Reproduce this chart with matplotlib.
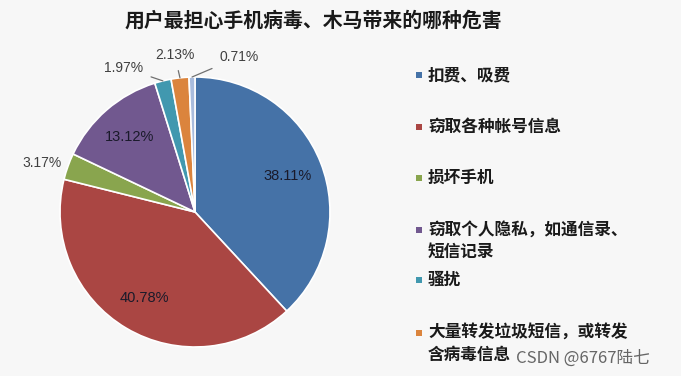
import numpy as np
import matplotlib
matplotlib.use("Agg")
from matplotlib import pyplot as plt
from matplotlib.patches import Rectangle

plt.rcParams['font.family'] = ['Noto Sans CJK SC', 'DejaVu Sans']

title = "用户最担心手机病毒、木马带来的哪种危害"
labels = ["扣费、吸费", "窃取各种帐号信息", "损坏手机",
          "窃取个人隐私，如通信录、\n短信记录", "骚扰",
          "大量转发垃圾短信，或转发\n含病毒信息", ""]
values = [38.11, 40.78, 3.17, 13.12, 1.97, 2.13, 0.71]
colors = ["#4572A7", "#AA4643", "#89A54E", "#71588F", "#4198AF", "#DB843D", "#A9BCDD"]

W, H = 681, 376
fig = plt.figure(figsize=(W / 100, H / 100), dpi=100)
fig.patch.set_facecolor("#f7f7f7")

# pie centred at (195, 212) px, radius ~135 px
cx, cy, r = 195, 212, 135
ax = fig.add_axes([(cx - r) / W, (H - cy - r) / H, 2 * r / W, 2 * r / H])
wedges, _ = ax.pie(values, colors=colors, startangle=90, counterclock=False,
                   radius=1, wedgeprops=dict(edgecolor="white", linewidth=1.2))
ax.set_xlim(-1, 1)
ax.set_ylim(-1, 1)
ax.set_aspect("equal")
ax.axis("off")

pct_font = ['Liberation Sans', 'DejaVu Sans']
# outside label offsets (data units) for small slices
outside = {2: (-1.13, 0.36), 4: (-0.53, 1.07), 5: (-0.15, 1.16), 6: (0.33, 1.15)}
for i, (w, v) in enumerate(zip(wedges, values)):
    ang = np.deg2rad((w.theta1 + w.theta2) / 2)
    txt = f"{v:.2f}%"
    if i in outside:
        tx, ty = outside[i]
        if i == 2:
            ax.text(tx, ty, txt, ha="center", va="center", fontsize=10,
                    color="#404040", family=pct_font)
        else:
            ax.annotate(txt, xy=(np.cos(ang), np.sin(ang)), xytext=(tx, ty),
                        ha="center", va="center", fontsize=10, color="#404040",
                        family=pct_font,
                        arrowprops=dict(arrowstyle="-", color="#707070", lw=0.9,
                                        shrinkA=4, shrinkB=0))
    else:
        ax.text(0.74 * np.cos(ang), 0.74 * np.sin(ang), txt, ha="center",
                va="center", fontsize=10.5, color="#1a1a2a", family=pct_font)

fig.text(313 / W, 1 - 20 / H, title, ha="center", va="center",
         fontsize=14.3, fontweight="bold", color="#1a1a1a")

# legend (each line as its own text so lines keep their own extents)
leg_y = [75, 127, 178, 230, 280, 333]
for lab, col, y in zip(labels[:6], colors[:6], leg_y):
    fig.patches.append(Rectangle(((419 - 3) / W, 1 - (y + 3) / H), 6 / W, 6 / H,
                                 transform=fig.transFigure, facecolor=col,
                                 edgecolor="none"))
    for k, line in enumerate(lab.split("\n")):
        fig.text(428 / W, 1 - (y + 22 * k) / H, line, ha="left", va="center",
                 fontsize=12, color="#1a1a1a", fontweight="bold")

fig.text(516 / W, 1 - 358 / H, "CSDN @6767陆七", ha="left", va="center",
         fontsize=12, color="#666666")

fig.savefig("out.png", dpi=100, facecolor=fig.get_facecolor())
